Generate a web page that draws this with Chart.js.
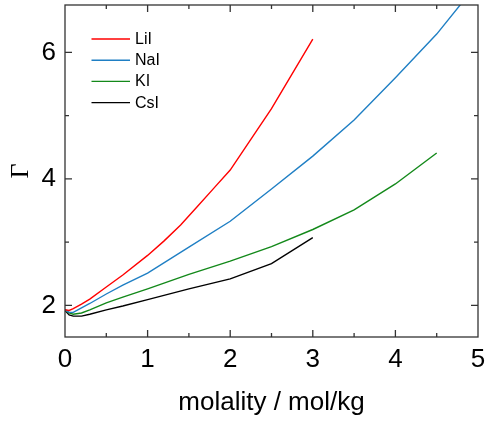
<!DOCTYPE html>
<html>
<head>
<meta charset="utf-8">
<script src="https://cdn.jsdelivr.net/npm/chart.js@4/dist/chart.umd.min.js"></script>
<style>
  html, body { margin: 0; padding: 0; background: #fff; }
  #wrap { width: 485px; height: 424px; }
</style>
</head>
<body>
<div id="wrap"><canvas id="c" width="485" height="424"></canvas></div>
<script>
// ---- data ----
const liiX = [0, 0.05, 0.1, 0.2, 0.3, 0.5, 0.7, 1.0, 1.2, 1.4, 1.6, 1.8, 2.0, 2.5, 3.0];
const liiY = [1.93, 1.92, 1.95, 2.02, 2.10, 2.29, 2.48, 2.79, 3.02, 3.27, 3.56, 3.85, 4.14, 5.11, 6.21];

const naiX = [0, 0.05, 0.1, 0.2, 0.3, 0.5, 0.7, 1.0, 1.5, 2.0, 2.5, 3.0, 3.5, 4.0, 4.5, 5.0];
const naiY = [1.93, 1.89, 1.89, 1.96, 2.03, 2.18, 2.32, 2.51, 2.92, 3.33, 3.84, 4.36, 4.93, 5.60, 6.29, 7.10];

const kiX = [0, 0.05, 0.1, 0.2, 0.3, 0.5, 0.7, 1.0, 1.5, 2.0, 2.5, 3.0, 3.5, 4.0, 4.5];
const kiY = [1.93, 1.88, 1.86, 1.88, 1.93, 2.04, 2.13, 2.26, 2.49, 2.70, 2.93, 3.20, 3.51, 3.92, 4.41];

const csiX = [0, 0.05, 0.1, 0.2, 0.3, 0.5, 0.7, 1.0, 1.5, 2.0, 2.5, 3.0];
const csiY = [1.92, 1.85, 1.83, 1.83, 1.86, 1.93, 1.99, 2.09, 2.26, 2.42, 2.66, 3.07];

const seriesNames = ["LiI", "NaI", "KI", "CsI"];
const seriesColors = ["#ff0000", "#1f7fc4", "#13891a", "#000000"];

const xTickValues = [0, 1, 2, 3, 4, 5];
const xMinorValues = [0.5, 1.5, 2.5, 3.5, 4.5];
const yTickValues = [2, 4, 6];
const yMinorValues = [3, 5];
const xRange = [0, 5];
const yRange = [1.5, 6.75];
const xTitle = "molality / mol/kg";
const yTitle = "Γ";

function pts(xs, ys) { return xs.map((x, i) => ({ x: x, y: ys[i] })); }
const allX = [liiX, naiX, kiX, csiX];
const allY = [liiY, naiY, kiY, csiY];

const datasets = seriesNames.map((name, i) => ({
  label: name,
  data: pts(allX[i], allY[i]),
  borderColor: seriesColors[i],
  backgroundColor: seriesColors[i],
  borderWidth: 1.4,
  pointRadius: 0,
  tension: 0,
  fill: false
}));

const frameColor = "#333333";

const framePlugin = {
  id: "frame",
  afterDatasetsDraw(chart) {
    const ctx = chart.ctx;
    const a = chart.chartArea;
    const xs = chart.scales.x, ys = chart.scales.y;
    ctx.save();
    ctx.strokeStyle = frameColor;
    ctx.lineWidth = 1.3;
    ctx.strokeRect(a.left, a.top, a.right - a.left, a.bottom - a.top);
    ctx.beginPath();
    const maj = 7, min = 4;
    xTickValues.forEach(v => {
      const p = xs.getPixelForValue(v);
      if (p <= a.left + 1 || p >= a.right - 1) return;
      ctx.moveTo(p, a.bottom); ctx.lineTo(p, a.bottom - maj);
      ctx.moveTo(p, a.top); ctx.lineTo(p, a.top + maj);
    });
    xMinorValues.forEach(v => {
      const p = xs.getPixelForValue(v);
      ctx.moveTo(p, a.bottom); ctx.lineTo(p, a.bottom - min);
      ctx.moveTo(p, a.top); ctx.lineTo(p, a.top + min);
    });
    yTickValues.forEach(v => {
      const p = ys.getPixelForValue(v);
      ctx.moveTo(a.left, p); ctx.lineTo(a.left + maj, p);
      ctx.moveTo(a.right, p); ctx.lineTo(a.right - maj, p);
    });
    yMinorValues.forEach(v => {
      const p = ys.getPixelForValue(v);
      ctx.moveTo(a.left, p); ctx.lineTo(a.left + min, p);
      ctx.moveTo(a.right, p); ctx.lineTo(a.right - min, p);
    });
    ctx.stroke();

    // legend inside plot
    ctx.font = "16px 'Liberation Sans', Arial, sans-serif";
    ctx.textBaseline = "middle";
    ctx.textAlign = "left";
    chart.data.datasets.forEach((ds, i) => {
      const y = 39 + i * 21.2;
      ctx.strokeStyle = ds.borderColor;
      ctx.lineWidth = 1.4;
      ctx.beginPath();
      ctx.moveTo(91.5, y); ctx.lineTo(130, y);
      ctx.stroke();
      ctx.fillStyle = "#000";
      ctx.fillText(ds.label, 135, y + 0.5);
    });
    ctx.restore();
  }
};

new Chart(document.getElementById("c"), {
  type: "line",
  data: { datasets: datasets },
  options: {
    responsive: false,
    animation: false,
    devicePixelRatio: 1,
    layout: { padding: { left: 0, right: 7, top: 5, bottom: 0 } },
    plugins: { legend: { display: false }, tooltip: { enabled: false } },
    scales: {
      x: {
        type: "linear",
        min: xRange[0], max: xRange[1],
        afterBuildTicks(s) { s.ticks = xTickValues.map(v => ({ value: v })); },
        afterFit(s) { s.height = 87; s.paddingLeft = 0; s.paddingRight = 0; },
        grid: { display: false, drawTicks: false },
        border: { display: false },
        ticks: {
          color: "#000",
          font: { family: "'Liberation Sans', Arial, sans-serif", size: 26 },
          padding: 7,
          maxRotation: 0
        },
        title: {
          display: true, text: xTitle, color: "#000",
          font: { family: "'Liberation Sans', Arial, sans-serif", size: 26 },
          padding: { top: 0, bottom: 6 }
        }
      },
      y: {
        type: "linear",
        min: yRange[0], max: yRange[1],
        afterBuildTicks(s) { s.ticks = yTickValues.map(v => ({ value: v })); },
        afterFit(s) { s.width = 65; s.paddingTop = 0; s.paddingBottom = 0; },
        grid: { display: false, drawTicks: false },
        border: { display: false },
        ticks: {
          color: "#000",
          font: { family: "'Liberation Sans', Arial, sans-serif", size: 26 },
          padding: 9
        },
        title: {
          display: true, text: yTitle, color: "#000",
          font: { family: "'Liberation Serif', 'Times New Roman', serif", size: 26 },
          padding: { top: 6, bottom: 0 }
        }
      }
    }
  },
  plugins: [framePlugin]
});
</script>
</body>
</html>
